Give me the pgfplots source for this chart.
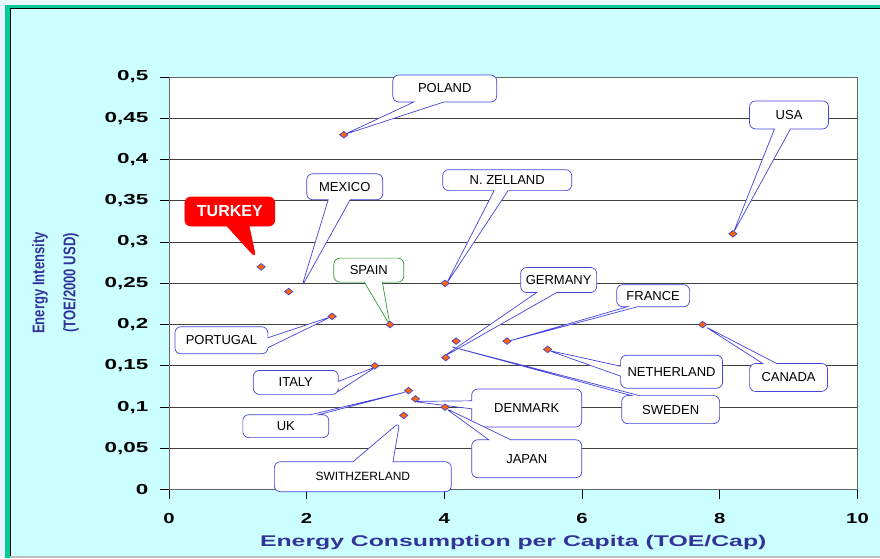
\documentclass[border=0pt]{standalone}
\usepackage{fontspec}
\setmainfont{Liberation Sans}
\usepackage{graphicx}
\usepackage{pgfplots}
\usepackage{pgfplotstable}
\pgfplotsset{compat=1.18}
\usetikzlibrary{shapes.callouts}
\definecolor{outerbg}{HTML}{E8F6FC}
\definecolor{cyanbg}{HTML}{CCFFFF}
\definecolor{frameg}{HTML}{00CC99}
\definecolor{lblue}{HTML}{333399}
\definecolor{cblue}{HTML}{4444DD}
\definecolor{mkorange}{HTML}{FF6600}
\definecolor{spaingreen}{HTML}{339933}

\pgfplotstableread{
x y
2.54 0.43
8.19 0.31
1.34 0.27
1.74 0.24
4.01 0.25
3.21 0.20
2.37 0.21
4.02 0.16
4.17 0.18
4.91 0.18
5.50 0.17
7.75 0.20
2.99 0.15
3.48 0.12
3.58 0.11
4.01 0.10
3.41 0.09
}\datatable

\tikzset{co/.style={rectangle callout, draw=cblue, fill=white, rounded corners=6pt,
  line width=0.7pt, font=\fontsize{13}{15}\selectfont, inner sep=0pt,
  callout pointer width=16pt, align=center}}

\begin{document}
\begin{tikzpicture}
% background frame
\fill[outerbg] (0,0) rectangle (880pt,558pt);
\fill[cyanbg] (10pt,0) rectangle (880pt,550pt);
\fill[frameg] (5pt,0) rectangle (10pt,553pt);
\fill[frameg] (5pt,550pt) rectangle (880pt,553pt);
\draw[black, line width=1pt] (10.5pt,0) -- (10.5pt,549.5pt) -- (880pt,549.5pt);
\fill[gray!50] (10pt,0) rectangle (880pt,1.5pt);

\begin{axis}[
  at={(169pt,68pt)}, anchor=south west,
  scale only axis, width=689pt, height=413pt,
  xmin=0, xmax=10, ymin=0, ymax=0.5,
  xtick={0,2,4,6,8,10},
  ytick={0,0.05,0.1,0.15,0.2,0.25,0.3,0.35,0.4,0.45,0.5},
  axis background/.style={fill=white},
  axis line style={black!60, line width=0.8pt},
  tick pos=left, tick align=outside,
  major tick length=9pt,
  tick style={black, line width=0.8pt},
  ymajorgrids, grid style={black!75, line width=0.8pt},
  /pgf/number format/assume math mode=true,
  ticklabel style={font=\bfseries\fontsize{14.5}{16}\selectfont},
  xticklabel style={yshift=-11pt},
  yticklabel style={xshift=-8pt},
  xticklabel={\scalebox{1.4}[1]{\pgfmathprintnumber{\tick}}},
  yticklabel={\scalebox{1.55}[1]{\pgfmathprintnumber[fixed,use comma,precision=2]{\tick}}},
  xlabel={\scalebox{1.6}[1]{Energy Consumption per Capita (TOE/Cap)}},
  xlabel style={font=\bfseries\fontsize{15.5}{17}\selectfont, text=lblue,
    at={(axis description cs:0.5,0)}, anchor=center, yshift=-53pt},
  clip=false,
]
\addplot[only marks, mark=diamond*, mark size=5.5pt,
  mark options={yscale=0.6, fill=mkorange, draw=cblue, line width=0.7pt}]
  table[x=x, y=y] {\datatable};

\node[co, minimum width=104pt, minimum height=27pt, callout pointer width=30pt,
  callout absolute pointer={(axis cs:2.54,0.43)}] at (axis cs:4.006,0.486) {POLAND};
\node[co, minimum width=79pt, minimum height=28pt,
  callout absolute pointer={(axis cs:8.19,0.31)}] at (axis cs:9.006,0.454) {USA};
\node[co, draw=red, fill=red, text=white, font=\bfseries\fontsize{16}{18}\selectfont,
  minimum width=90pt, minimum height=29pt, callout pointer width=22pt,
  callout absolute pointer={(axis cs:1.263,0.281)}] at (axis cs:0.885,0.337) {TURKEY};
\node[co, minimum width=76pt, minimum height=26pt, callout pointer width=22pt,
  callout absolute pointer={(axis cs:1.93,0.246)}] at (axis cs:2.554,0.367) {MEXICO};
\node[co, minimum width=129pt, minimum height=21pt, callout pointer width=14pt,
  callout absolute pointer={(axis cs:4.02,0.248)}] at (axis cs:4.913,0.375) {N. ZELLAND};
\node[co, draw=spaingreen, minimum width=70pt, minimum height=24pt, callout pointer width=18pt,
  callout absolute pointer={(axis cs:3.21,0.199)}] at (axis cs:2.903,0.266) {SPAIN};
\node[co, minimum width=76pt, minimum height=25pt, callout pointer width=20pt,
  callout absolute pointer={(axis cs:3.948,0.159)}] at (axis cs:5.66,0.254) {GERMANY};
\node[co, minimum width=73pt, minimum height=22pt, callout pointer width=10pt,
  callout absolute pointer={(axis cs:4.89,0.179)}] at (axis cs:7.032,0.235) {FRANCE};
\node[co, minimum width=93pt, minimum height=27pt, callout pointer width=10pt,
  callout absolute pointer={(axis cs:2.37,0.21)}] at (axis cs:0.762,0.181) {PORTUGAL};
\node[co, minimum width=102pt, minimum height=33pt, callout pointer width=10pt,
  callout absolute pointer={(axis cs:5.50,0.169)}] at (axis cs:7.30,0.143) {NETHERLAND};
\node[co, minimum width=78pt, minimum height=28pt, callout pointer width=14pt,
  callout absolute pointer={(axis cs:7.78,0.198)}] at (axis cs:8.999,0.136) {CANADA};
\node[co, minimum width=85pt, minimum height=24pt, callout pointer width=10pt,
  callout absolute pointer={(axis cs:3.01,0.149)}] at (axis cs:1.843,0.130) {ITALY};
\node[co, minimum width=98pt, minimum height=28pt, callout pointer width=8pt,
  callout absolute pointer={(axis cs:4.064,0.174)}] at (axis cs:7.286,0.097) {SWEDEN};
\node[co, minimum width=110pt, minimum height=38pt, callout pointer width=8pt,
  callout absolute pointer={(axis cs:3.54,0.107)}] at (axis cs:5.196,0.099) {DENMARK};
\node[co, minimum width=110pt, minimum height=38pt, callout pointer width=22pt,
  callout absolute pointer={(axis cs:4.01,0.099)}] at (axis cs:5.196,0.0375) {JAPAN};
\node[co, minimum width=86pt, minimum height=23pt, callout pointer width=8pt,
  callout absolute pointer={(axis cs:3.47,0.119)}] at (axis cs:1.698,0.077) {UK};
\node[co, font=\fontsize{12}{14}\selectfont, minimum width=177pt, minimum height=30pt,
  callout pointer width=40pt,
  callout absolute pointer={(axis cs:3.353,0.082)}] at (axis cs:2.816,0.0157) {SWITHZERLAND};
\end{axis}

% y axis label (two lines)
\node[rotate=90, text=lblue, font=\bfseries\fontsize{12.5}{14}\selectfont] at (40pt,275pt)
  {\scalebox{1.05}[1.35]{Energy Intensity}};
\node[rotate=90, text=lblue, font=\bfseries\fontsize{12.5}{14}\selectfont] at (71pt,275pt)
  {\scalebox{1.05}[1.35]{(TOE/2000 USD)}};
\end{tikzpicture}
\end{document}
